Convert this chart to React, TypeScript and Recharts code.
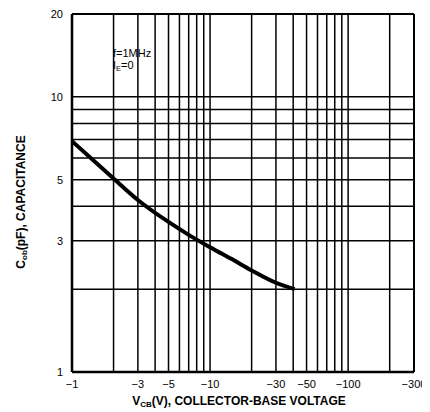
import { LineChart, Line, XAxis, YAxis, CartesianGrid, ReferenceLine } from 'recharts';

// |V_CB| in volts (plotted as negative labels), C_ob in pF
const vcb = [1, 1.5, 2, 3, 5, 7, 10, 15, 20, 30, 41];
const cob = [6.9, 5.75, 5.05, 4.22, 3.51, 3.15, 2.84, 2.54, 2.34, 2.11, 2.0];

const xGrid = [1, 2, 3, 4, 5, 6, 7, 8, 9, 10, 20, 30, 40, 50, 60, 70, 80, 90, 100, 200, 300];
const xLabels = [1, 3, 5, 10, 30, 50, 100, 300];
const yGrid = [1, 2, 3, 4, 5, 6, 7, 8, 9, 10, 20];
const yLabels = [1, 3, 5, 10, 20];

const data = vcb.map((v, i) => ({ v, c: cob[i] }));

const FONT = '"Liberation Sans", Arial, sans-serif';
const W = 422;
const H = 404;

export default function App() {
  return (
    <div style={{ position: 'relative', width: W, height: H, fontFamily: FONT }}>
      <LineChart
        width={W}
        height={H}
        data={data}
        margin={{ top: 6, right: 16, left: 0, bottom: 0 }}
        style={{ overflow: 'visible' }}
      >
        <CartesianGrid stroke="#000" strokeWidth={1.5} />
        <XAxis
          dataKey="v"
          type="number"
          scale="log"
          domain={[1, 300]}
          allowDataOverflow
          ticks={xGrid}
          interval={0}
          height={40}
          tickLine={false}
          tickSize={0}
          tickMargin={8}
          axisLine={{ stroke: '#000', strokeWidth: 2.5 }}
          tick={{ fill: '#000', fontSize: 11, fontFamily: FONT }}
          tickFormatter={(v: number) => (xLabels.includes(v) ? `\u2212${v}` : '')}
        />
        <YAxis
          type="number"
          scale="log"
          domain={[1, 20]}
          allowDataOverflow
          ticks={yGrid}
          interval={0}
          width={64}
          tickLine={false}
          tickSize={0}
          tickMargin={9}
          axisLine={{ stroke: '#000', strokeWidth: 2.5 }}
          tick={{ fill: '#000', fontSize: 11, fontFamily: FONT }}
          tickFormatter={(v: number) => (yLabels.includes(v) ? `${v}` : '')}
        />
        <ReferenceLine y={20} stroke="#000" strokeWidth={2} />
        <ReferenceLine x={300} stroke="#000" strokeWidth={2} />
        <Line
          dataKey="c"
          type="monotone"
          stroke="#000"
          strokeWidth={4}
          dot={false}
          isAnimationActive={false}
        />
      </LineChart>
      <svg
        width={W}
        height={H}
        style={{ position: 'absolute', left: 0, top: 0, pointerEvents: 'none' }}
        fontFamily={FONT}
      >
        <text x={105} y={48.5} fontSize={11} fill="#000">
          f=1MHz
        </text>
        <text x={105} y={60.5} fontSize={11} fill="#000">
          I<tspan fontSize={7.5} dy={2}>E</tspan>
          <tspan dy={-2}>=0</tspan>
        </text>
        <text x={231} y={397} fontSize={12} fontWeight="bold" textAnchor="middle" fill="#000">
          V<tspan fontSize={8} dy={2}>CB</tspan>
          <tspan dy={-2}>(V), COLLECTOR-BASE VOLTAGE</tspan>
        </text>
        <text
          x={16.5}
          y={194}
          fontSize={12}
          fontWeight="bold"
          textAnchor="middle"
          fill="#000"
          transform="rotate(-90 16.5 194)"
        >
          C<tspan fontSize={8} dy={2}>ob</tspan>
          <tspan dy={-2}>(pF), CAPACITANCE</tspan>
        </text>
      </svg>
    </div>
  );
}
